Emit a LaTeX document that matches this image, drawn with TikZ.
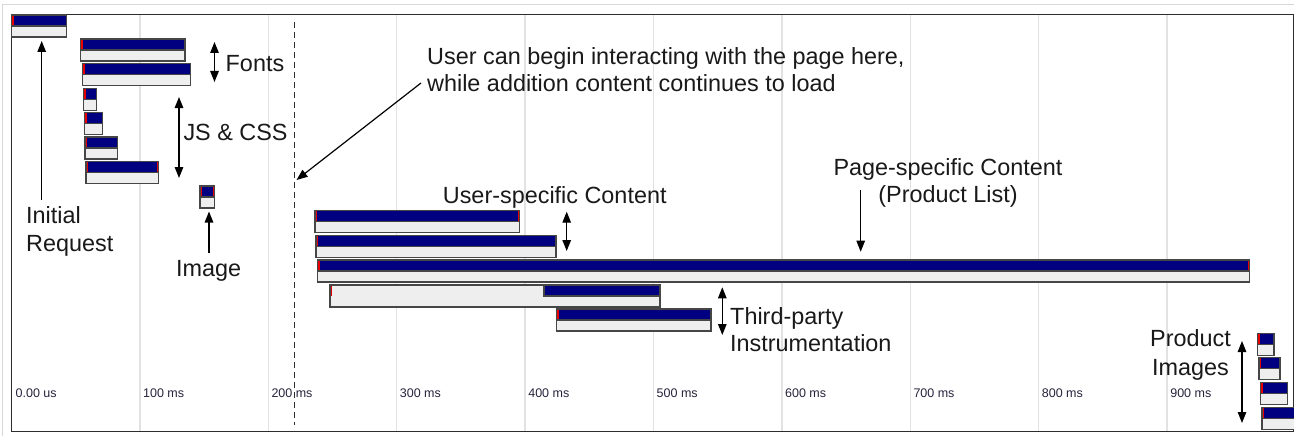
\documentclass[tikz,border=0pt]{standalone}
\usepackage{fontspec}
\setmainfont{Liberation Sans}
\usetikzlibrary{arrows.meta}
\definecolor{navybar}{RGB}{0,0,128}
\definecolor{greybar}{RGB}{238,238,238}
\definecolor{barlinec}{RGB}{70,70,70}
\definecolor{gridc}{RGB}{226,226,226}
\definecolor{framec}{RGB}{45,45,45}
\definecolor{outerc}{RGB}{215,215,215}
\definecolor{txt}{RGB}{25,25,25}
\definecolor{axisc}{RGB}{40,35,60}
\definecolor{redc}{RGB}{230,0,0}
\tikzset{
  barln/.style={draw=barlinec, line width=1.1pt},
  bigtxt/.style={font=\fontsize{23.4}{28}\selectfont, text=txt, inner sep=0pt, anchor=base west},
  bigtxtc/.style={bigtxt, anchor=base},
  axislbl/.style={font=\fontsize{12.5}{15}\selectfont, text=axisc, inner sep=0pt, anchor=base west},
  arr/.style={line width=1.2pt, draw=black, -{Triangle[length=11pt,width=8.5pt]}},
  darr/.style={line width=1.2pt, draw=black, {Triangle[length=11pt,width=8.5pt]}-{Triangle[length=11pt,width=8.5pt]}},
  gridln/.style={draw=gridc, line width=1.5pt},
}
\newcommand\wfbar[3]{%
  \fill[greybar] (#1,#3+11) rectangle (#2,#3+22);
  \fill[navybar] (#1,#3) rectangle (#2,#3+11);
  \fill[redc] (#1,#3) rectangle ({#1+2.2},#3+11);
  \fill[redc] ({#2-1.2},#3) rectangle (#2,#3+11);
  \draw[barln] (#1,#3) rectangle (#2,#3+22) (#1,#3+11) -- (#2,#3+11);
}
\begin{document}
\begin{tikzpicture}[x=1pt,y=-1pt]
\useasboundingbox (0,0) rectangle (1294,436);
\clip (0,0) rectangle (1294,436);
\fill[white] (0,0) rectangle (1294,436);
% outer light border
\draw[outerc, line width=1pt] (2.5,436) -- (2.5,4.3) -- (1294,4.3);
% gridlines
\foreach \k in {1,...,9} {
  \draw[gridln] ({11.5+128.4*\k},14.3) -- ({11.5+128.4*\k},431.7);
}
% frame
\draw[framec, line width=1.5pt] (11.7,14.3) rectangle (1293.3,431.7);
% axis labels
\node[axislbl] (t0) at (15.5,397) {0.00 us};
\foreach \k in {1,...,9} {
  \node[axislbl] (t\k) at ({14.5+128.4*\k},397) {\k00 ms};
}
% bars
\wfbar{11.7}{66.7}{15}
\wfbar{80.7}{185}{39}
\wfbar{82.3}{190.7}{63.3}
\wfbar{83.3}{96.7}{88.3}
\wfbar{84.7}{102.7}{112.7}
\wfbar{85}{117.7}{137}
\wfbar{86}{158.3}{161.7}
\wfbar{200}{214.3}{186}
\wfbar{315}{519.3}{210.7}
\wfbar{316}{556}{235.7}
\wfbar{317.7}{1249.3}{260}
% row 12 (waiting then receiving)
\fill[greybar] (330,285) rectangle (660,307);
\fill[redc] (330,285) rectangle (332,296);
\fill[navybar] (544,285) rectangle (660,296);
\fill[redc] (658.8,285) rectangle (660,296);
\draw[barln] (330,285) rectangle (660,307) (544,285) -- (544,296) -- (660,296);
\wfbar{556.7}{711}{309}
\wfbar{1257.7}{1274}{333.3}
\wfbar{1259}{1280}{357.3}
\wfbar{1260.7}{1287.7}{382.3}
\wfbar{1262}{1300}{407.3}
% dashed interaction line
\draw[framec, line width=1.3pt, dash pattern=on 6pt off 4pt] (294.3,22) -- (294.3,425);
% labels
\node[bigtxt] (fonts) at (225.5,71.3) {Fonts};
\node[bigtxt] (jscss) at (183.3,140.3) {JS \& CSS};
\node[bigtxt] (init1) at (26,223.3) {Initial};
\node[bigtxt] (init2) at (26,251.7) {Request};
\node[bigtxtc] (image) at (208.7,276) {Image};
\node[bigtxt] (user1) at (427,64.5) {User can begin interacting with the page here,};
\node[bigtxt] (user2) at (427,92) {while addition content continues to load};
\node[bigtxt] (usersp) at (442.7,203.3) {User-specific Content};
\node[bigtxtc] (page1) at (948,175) {Page-specific Content};
\node[bigtxtc] (page2) at (948,202.5) {(Product List)};
\node[bigtxt] (third1) at (730,324.3) {Third-party};
\node[bigtxt] (third2) at (730,351.7) {Instrumentation};
\node[bigtxtc] (prod1) at (1190.5,346.5) {Product};
\node[bigtxtc] (prod2) at (1190.5,375) {Images};
% arrow end points
\coordinate (fontsA) at (214.5,42);  \coordinate (fontsB) at (214.5,82);
\coordinate (jsA) at (179,97);       \coordinate (jsB) at (179,178);
\coordinate (initA) at (41.7,200);   \coordinate (initB) at (41.7,41);
\coordinate (imgA) at (209,253);     \coordinate (imgB) at (209,211.5);
\coordinate (userA) at (421,83);     \coordinate (userB) at (296.5,180);
\coordinate (uspA) at (566.7,211.7); \coordinate (uspB) at (566.7,251);
\coordinate (pageA) at (860.7,190);  \coordinate (pageB) at (860.7,251.7);
\coordinate (thA) at (722.3,287.3);  \coordinate (thB) at (722.3,335);
\coordinate (prA) at (1242,341);     \coordinate (prB) at (1242,423);
\draw[darr] (fontsA) -- (fontsB);
\draw[darr] (jsA) -- (jsB);
\draw[arr] (initA) -- (initB);
\draw[arr] (imgA) -- (imgB);
\draw[arr] (userA) -- (userB);
\draw[darr] (uspA) -- (uspB);
\draw[arr] (pageA) -- (pageB);
\draw[darr] (thA) -- (thB);
\draw[darr] (prA) -- (prB);
\end{tikzpicture}
\end{document}
